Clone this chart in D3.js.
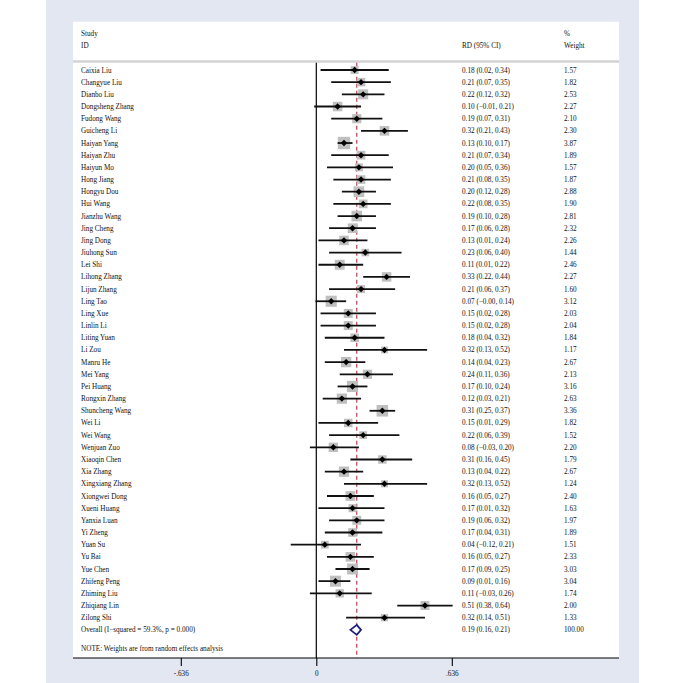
<!DOCTYPE html>
<html>
<head>
<meta charset="utf-8">
<script src="https://cdn.jsdelivr.net/npm/d3@7"></script>
<style>
  html, body { margin: 0; padding: 0; background: #fff; }
  svg text { font-family: "Liberation Serif", "Times New Roman", serif; font-size: 7.2px; fill: #111; }
</style>
</head>
<body>
<svg id="chart" width="685" height="683"></svg>
<script>
// ========== Data ==========

const studies = [
    "Caixia Liu", "Changyue Liu", "Dianbo Liu", "Dongsheng Zhang", "Fudong Wang",
    "Guicheng Li", "Haiyan Yang", "Haiyan Zhu", "Haiyun Mo", "Hong Jiang",
    "Hongyu Dou", "Hui Wang", "Jianzhu Wang", "Jing Cheng", "Jing Dong",
    "Jiuhong Sun", "Lei Shi", "Lihong Zhang", "Lijun Zhang", "Ling Tao",
    "Ling Xue", "Linlin Li", "Liting Yuan", "Li Zou", "Manru He",
    "Mei Yang", "Pei Huang", "Rongxin Zhang", "Shuncheng Wang", "Wei Li",
    "Wei Wang", "Wenjuan Zuo", "Xiaoqin Chen", "Xia Zhang", "Xingxiang Zhang",
    "Xiongwei Dong", "Xueni Huang", "Yanxia Luan", "Yi Zheng", "Yuan Su",
    "Yu Bai", "Yue Chen", "Zhifeng Peng", "Zhiming Liu", "Zhiqiang Lin",
    "Zilong Shi"
];

const rd = [
    0.18, 0.21, 0.22, 0.10, 0.19, 0.32, 0.13, 0.21, 0.20, 0.21,
    0.20, 0.22, 0.19, 0.17, 0.13, 0.23, 0.11, 0.33, 0.21, 0.07,
    0.15, 0.15, 0.18, 0.32, 0.14, 0.24, 0.17, 0.12, 0.31, 0.15,
    0.22, 0.08, 0.31, 0.13, 0.32, 0.16, 0.17, 0.19, 0.17, 0.04,
    0.16, 0.17, 0.09, 0.11, 0.51, 0.32
];

const lower = [
    0.02, 0.07, 0.12, -0.01, 0.07, 0.21, 0.10, 0.07, 0.05, 0.08,
    0.12, 0.08, 0.10, 0.06, 0.01, 0.06, 0.01, 0.22, 0.06, -0.004,
    0.02, 0.02, 0.04, 0.13, 0.04, 0.11, 0.10, 0.03, 0.25, 0.01,
    0.06, -0.03, 0.16, 0.04, 0.13, 0.05, 0.01, 0.06, 0.04, -0.12,
    0.05, 0.09, 0.01, -0.03, 0.38, 0.14
];

const upper = [
    0.34, 0.35, 0.32, 0.21, 0.31, 0.43, 0.17, 0.34, 0.36, 0.35,
    0.28, 0.35, 0.28, 0.28, 0.24, 0.40, 0.22, 0.44, 0.37, 0.14,
    0.28, 0.28, 0.32, 0.52, 0.23, 0.36, 0.24, 0.21, 0.37, 0.29,
    0.39, 0.20, 0.45, 0.22, 0.52, 0.27, 0.32, 0.32, 0.31, 0.21,
    0.27, 0.25, 0.16, 0.26, 0.64, 0.51
];

const weights = [
    1.57, 1.82, 2.53, 2.27, 2.10, 2.30, 3.87, 1.89, 1.57, 1.87,
    2.88, 1.90, 2.81, 2.32, 2.26, 1.44, 2.46, 2.27, 1.60, 3.12,
    2.03, 2.04, 1.84, 1.17, 2.67, 2.13, 3.16, 2.63, 3.36, 1.82,
    1.52, 2.20, 1.79, 2.67, 1.24, 2.40, 1.63, 1.97, 1.89, 1.51,
    2.33, 3.03, 3.04, 1.74, 2.00, 1.33
];

const overall = { label: "Overall  (I\u2212squared = 59.3%, p = 0.000)", rd: 0.19, lower: 0.16, upper: 0.21, weight: 100.00 };

const tickValues = [-0.636, 0, 0.636];
const tickLabels = ["-.636", "0", ".636"];

// ========== Helpers ==========

function fmt(v) {
    return (v < 0 ? "\u2212" : "") + Math.abs(v).toFixed(2);
}

function ciText(est, lo, hi) {
    return `${fmt(est)} (${fmt(lo)}, ${fmt(hi)})`;
}

// ========== Layout ==========

const svg = d3.select("#chart");

const outer = { left: 46, right: 639, top: 0, bottom: 683 };
const inner = { left: 73, right: 619, top: 21.7, bottom: 658 };
const sepY = 61.5;

const colName = 81, colCI = 462, colW = 564;

const x = d3.scaleLinear()
    .domain([0, 0.636])
    .range([316.3, 451.8]);

const y = d3.scaleLinear()
    .domain([0, studies.length - 1])
    .range([70, 617.7]);

const boxSize = w => 6.3 * Math.sqrt(w);

// backgrounds
svg.append("rect")
    .attr("x", outer.left).attr("y", outer.top)
    .attr("width", outer.right - outer.left).attr("height", outer.bottom - outer.top)
    .attr("fill", "#e2e7f1");

svg.append("rect")
    .attr("x", inner.left).attr("y", inner.top)
    .attr("width", inner.right - inner.left).attr("height", inner.bottom - inner.top)
    .attr("fill", "#fff");

// header
const header = svg.append("g");
header.append("text").attr("x", colName).attr("y", 33.3).attr("dy", "0.35em").text("Study");
header.append("text").attr("x", colName).attr("y", 45.7).attr("dy", "0.35em").text("ID");
header.append("text").attr("x", colCI).attr("y", 45.7).attr("dy", "0.35em").text("RD (95% CI)");
header.append("text").attr("x", colW).attr("y", 33.3).attr("dy", "0.35em").text("%");
header.append("text").attr("x", colW).attr("y", 45.7).attr("dy", "0.35em").text("Weight");

svg.append("line")
    .attr("x1", inner.left).attr("x2", inner.right)
    .attr("y1", sepY).attr("y2", sepY)
    .attr("stroke", "#d3d3d3").attr("stroke-width", 2.5);

// reference lines
svg.append("line")
    .attr("x1", x(0)).attr("x2", x(0))
    .attr("y1", sepY + 1.2).attr("y2", inner.bottom)
    .attr("stroke", "#000").attr("stroke-width", 1.2);

svg.append("line")
    .attr("x1", x(overall.rd)).attr("x2", x(overall.rd))
    .attr("y1", sepY + 1.2).attr("y2", inner.bottom)
    .attr("stroke", "#b03040").attr("stroke-width", 1.1)
    .attr("stroke-dasharray", "4,3");

// ========== Study rows ==========

const rows = svg.append("g")
    .selectAll("g")
    .data(studies.map((s, i) => ({ name: s, rd: rd[i], lo: lower[i], hi: upper[i], w: weights[i], i })))
    .join("g");

rows.append("rect")
    .attr("x", d => x(d.rd) - boxSize(d.w) / 2)
    .attr("y", d => y(d.i) - boxSize(d.w) / 2)
    .attr("width", d => boxSize(d.w))
    .attr("height", d => boxSize(d.w))
    .attr("fill", "#bfbfbf");

rows.append("line")
    .attr("x1", d => x(d.lo)).attr("x2", d => x(d.hi))
    .attr("y1", d => y(d.i)).attr("y2", d => y(d.i))
    .attr("stroke", "#111").attr("stroke-width", 1.8);

rows.append("path")
    .attr("d", d => {
        const cx = x(d.rd), cy = y(d.i), r = 3.2;
        return `M${cx - r},${cy}L${cx},${cy - r}L${cx + r},${cy}L${cx},${cy + r}Z`;
    })
    .attr("fill", "#000");

rows.append("text")
    .attr("x", colName).attr("y", d => y(d.i)).attr("dy", "0.35em")
    .text(d => d.name);

rows.append("text")
    .attr("x", colCI).attr("y", d => y(d.i)).attr("dy", "0.35em")
    .text(d => ciText(d.rd, d.lo, d.hi));

rows.append("text")
    .attr("x", colW).attr("y", d => y(d.i)).attr("dy", "0.35em")
    .text(d => d.w.toFixed(2));

// ========== Overall ==========

const yO = y(studies.length);

svg.append("path")
    .attr("d", `M${x(overall.lower)},${yO}L${x(overall.rd)},${yO - 5}L${x(overall.upper)},${yO}L${x(overall.rd)},${yO + 5}Z`)
    .attr("fill", "#fff")
    .attr("stroke", "#1c1c7a")
    .attr("stroke-width", 1.8);

svg.append("text").attr("x", colName).attr("y", yO).attr("dy", "0.35em").text(overall.label);
svg.append("text").attr("x", colCI).attr("y", yO).attr("dy", "0.35em").text(ciText(overall.rd, overall.lower, overall.upper));
svg.append("text").attr("x", colW).attr("y", yO).attr("dy", "0.35em").text(overall.weight.toFixed(2));

svg.append("text")
    .attr("x", colName).attr("y", 648).attr("dy", "0.35em")
    .text("NOTE: Weights are from random effects analysis");

// ========== Axis ==========

const axisG = svg.append("g")
    .attr("transform", `translate(0,${inner.bottom})`)
    .call(d3.axisBottom(x)
        .tickValues(tickValues)
        .tickFormat((d, i) => tickLabels[i])
        .tickSize(8)
        .tickPadding(5));

axisG.select(".domain").remove();
axisG.selectAll(".tick line").attr("stroke", "#000").attr("stroke-width", 1.1);
axisG.selectAll(".tick text")
    .style("font-family", "'Liberation Serif', 'Times New Roman', serif")
    .style("font-size", "7.2px")
    .attr("fill", "#111");

svg.append("line")
    .attr("x1", inner.left).attr("x2", inner.right)
    .attr("y1", inner.bottom).attr("y2", inner.bottom)
    .attr("stroke", "#000").attr("stroke-width", 1.2);
</script>
</body>
</html>
